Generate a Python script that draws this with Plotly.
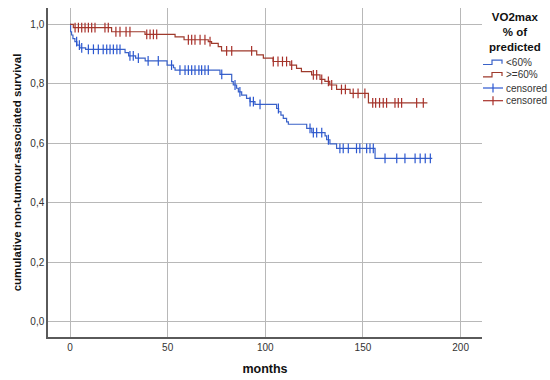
import numpy as np
import plotly.graph_objects as go

# ---------------- data ----------------
# group "<60%"
months_lo = [0, 0.3, 0.8, 1.5, 2.5, 3.5, 5, 8, 28.2, 30, 33.6, 38.5, 49.7, 53, 53.8,
             76.8, 82.8, 83.6, 85.3, 86.2, 87.9, 90.4, 92.2, 94.7, 105.8, 106.8, 108,
             109.2, 110.9, 111.8, 121.2, 123.8, 130.6, 131.4, 133.1, 136.5, 156.2]
surv_lo = [1.0, 0.975, 0.964, 0.952, 0.942, 0.930, 0.921, 0.916, 0.905, 0.894, 0.886,
           0.877, 0.863, 0.854, 0.846, 0.832, 0.807, 0.796, 0.785, 0.773, 0.762, 0.751,
           0.740, 0.731, 0.717, 0.706, 0.695, 0.684, 0.672, 0.664, 0.650, 0.636, 0.625,
           0.612, 0.598, 0.583, 0.549]
end_lo = 185.5
censor_lo = [3.4, 4.8, 6, 9.4, 12, 14.5, 17, 18.8, 20.5, 22.2, 24, 25.6, 30.7, 32.4, 35,
             40, 45.2, 52, 56.3, 58.9, 60.6, 62.3, 64, 66, 67.4, 69.1, 70.8, 77.7, 84.5,
             87, 92.2, 93.9, 97.3, 106.7, 122.9, 124.6, 126.3, 128.9, 132.3, 138.2,
             139.9, 142.5, 146.7, 148.4, 151.9, 153.6, 155.3, 161.3, 167.3, 171.5,
             176.7, 179.3, 181.9, 184.5]

# group ">=60%"
months_hi = [0, 1.7, 21.3, 38.4, 53.8, 58.4, 70.8, 72.5, 75.9, 77.6, 95.6, 99, 104,
             112.6, 116, 118.5, 123.7, 128, 130.5, 133, 136.5, 143.4, 152.8]
surv_hi = [1.0, 0.989, 0.975, 0.966, 0.958, 0.948, 0.942, 0.936, 0.925, 0.911, 0.897,
           0.886, 0.875, 0.863, 0.852, 0.841, 0.830, 0.815, 0.808, 0.796, 0.781, 0.768,
           0.736]
end_hi = 183
censor_hi = [2.6, 4.3, 6, 7.7, 9.4, 11.1, 12.8, 17.9, 19.6, 23.5, 25.6, 28.7, 30.7, 39.3,
             41, 42.7, 44.4, 60.6, 62.3, 64, 66.6, 69.1, 71.7, 80.2, 82.8, 93, 104.1,
             106.5, 108.8, 110.9, 113.5, 124.6, 126.3, 128.9, 132.3, 134, 139, 141, 145,
             147.5, 151, 155, 156.5, 158.5, 160.4, 162.1, 166.4, 168.1, 169.8, 177.5,
             180.9]

x_ticks = [0, 50, 100, 150, 200]
y_ticks = [0.0, 0.2, 0.4, 0.6, 0.8, 1.0]
legend_title = ["VO2max", "% of", "predicted"]
legend_labels = ["<60%", ">=60%", "censored", "censored"]

# ---------------- styling ----------------
BLUE = "#3a62c8"
BLUE_C = "#2b57d0"
RED = "#9e3a2c"
RED_C = "#a8302a"
FONT = "Arial, Liberation Sans, sans-serif"


def surv_at(t, times, vals):
    i = np.searchsorted(np.asarray(times), t, side="right") - 1
    return vals[max(i, 0)]


fig = go.Figure()
for times, vals, end, col in [(months_lo, surv_lo, end_lo, BLUE),
                              (months_hi, surv_hi, end_hi, RED)]:
    fig.add_trace(go.Scatter(x=list(times) + [end], y=list(vals) + [vals[-1]],
                             mode="lines", line=dict(color=col, width=1.2, shape="hv"),
                             hoverinfo="skip", showlegend=False))
for cens, times, vals, col in [(censor_lo, months_lo, surv_lo, BLUE_C),
                               (censor_hi, months_hi, surv_hi, RED_C)]:
    fig.add_trace(go.Scatter(x=cens, y=[surv_at(t, times, vals) for t in cens],
                             mode="markers",
                             marker=dict(symbol="line-ns-open", size=7, color=col,
                                         line=dict(color=col, width=1.2)),
                             hoverinfo="skip", showlegend=False))

# plot area in pixels
L, R, T, B = 48, 482, 8, 337
W, H = 550, 380


def px_x(px):
    return (px - L) / (R - L)


def px_y(py):
    return (B - py) / (B - T)


annotations = [dict(text="<b>" + "<br>".join(legend_title) + "</b>",
                    x=px_x(515), y=px_y(32), xref="paper", yref="paper",
                    xanchor="center", yanchor="middle", align="center",
                    showarrow=False,
                    font=dict(family=FONT, size=11.5, color="#111"))]
item_y = [62.7, 75, 88, 100.7]
for txt, yy in zip(legend_labels, item_y):
    annotations.append(dict(text=txt, x=px_x(504), y=px_y(yy), xref="paper",
                            yref="paper", xanchor="left", yanchor="middle",
                            showarrow=False,
                            font=dict(family=FONT, size=10, color="#333")))

shapes = []
for yy, col in [(item_y[0], BLUE), (item_y[1], RED)]:
    pts = [(483, yy + 1.8), (492, yy + 1.8), (492, yy - 2.5), (502, yy - 2.5),
           (502, yy + 1)]
    path = "M " + " L ".join("%f,%f" % (px_x(a), px_y(b)) for a, b in pts)
    shapes.append(dict(type="path", path=path, xref="paper", yref="paper",
                       line=dict(color=col, width=1.2)))
for yy, col in [(item_y[2], BLUE_C), (item_y[3], RED_C)]:
    shapes.append(dict(type="line", xref="paper", yref="paper",
                       x0=px_x(483), x1=px_x(503), y0=px_y(yy), y1=px_y(yy),
                       line=dict(color=col, width=1.2)))
    shapes.append(dict(type="line", xref="paper", yref="paper",
                       x0=px_x(493), x1=px_x(493), y0=px_y(yy - 4.5), y1=px_y(yy + 4.5),
                       line=dict(color=col, width=1.2)))

x0m = (L - 70) / 1.953
x1m = (R - 70) / 1.953
y0v = 1 - (B - 24.3) / 297.5
y1v = 1 + (24.3 - T) / 297.5

axis_common = dict(showgrid=True, gridcolor="#b8b8b8", gridwidth=1, zeroline=False,
                   showline=True, linecolor="#5a5a5a", linewidth=1.5, ticks="",
                   tickfont=dict(family=FONT, size=10, color="#333"), automargin=False)

fig.update_layout(
    width=W, height=H,
    margin=dict(l=L, r=W - R, t=T, b=H - B, pad=0),
    paper_bgcolor="white", plot_bgcolor="white",
    separators=", ",
    showlegend=False,
    font=dict(family=FONT),
    xaxis=dict(range=[x0m, x1m], tickvals=x_ticks,
               title=dict(text="<b>months</b>", standoff=12,
                          font=dict(family=FONT, size=12.5, color="#111")),
               **axis_common),
    yaxis=dict(range=[y0v, y1v], tickvals=y_ticks, tickformat=".1f",
               title=dict(text="<b>cumulative non-tumour-associated survival</b>",
                          standoff=6, font=dict(family=FONT, size=11.5, color="#111")),
               **axis_common),
    annotations=annotations,
    shapes=shapes,
)

fig.write_html("out.html", config={"displayModeBar": False},
               post_script="document.body.style.margin='0';"
                           "document.body.style.overflow='hidden';")
